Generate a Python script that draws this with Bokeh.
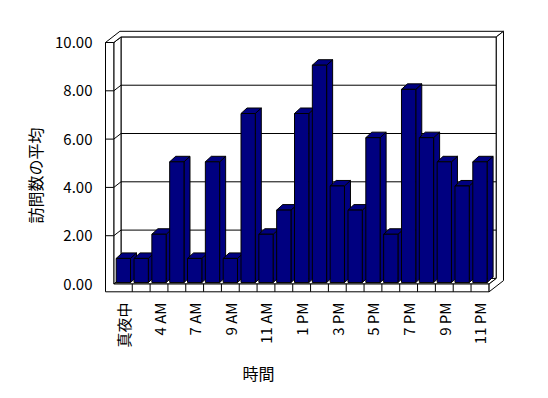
import math
from bokeh.plotting import figure
from bokeh.models import FixedTicker, Range1d, Title
from bokeh.embed import file_html
from bokeh.resources import INLINE

# ---- data ----
hours = ["真夜中", "1 AM", "4 AM", "5 AM", "7 AM", "8 AM", "9 AM", "10 AM", "11 AM",
         "12 PM", "1 PM", "2 PM", "3 PM", "4 PM", "5 PM", "6 PM", "7 PM", "8 PM",
         "9 PM", "10 PM", "11 PM"]
visits = [1, 1, 2, 5, 1, 5, 1, 7, 2, 3, 7, 9, 4, 3, 6, 2, 8, 6, 5, 4, 5]
y_ticks = [0, 2, 4, 6, 8, 10]
y_tick_labels = ["0.00", "2.00", "4.00", "6.00", "8.00", "10.00"]
x_tick_idx = list(range(0, len(hours), 2))
x_title = "時間"
y_title = "訪問数の平均"

# ---- style / geometry (pixel sizes converted to data units) ----
PX, PY = 17.83, 24.15
def ux(px):
    return px / PX
def uy(px):
    return px / PY

BAR = "#000080"
half = ux(7.15)
bdx, bdy = ux(6.0), uy(5.5)
lift = uy(1.45)
wx, wy = ux(7.2), uy(5.6)
x_out = -1.001
x_in = -0.5356
x_right = 20.513
y_bot = -0.323
y_top = y_ticks[-1]

FONT = "Noto Sans CJK JP"
W, H = 532, 392

p = figure(width=W, height=H, output_backend="svg", toolbar_location=None,
           x_range=Range1d(-1.0572, 21.489), y_range=Range1d(-0.393, 10.580),
           min_border_left=104, min_border_right=26, min_border_top=28,
           min_border_bottom=99)
p.outline_line_color = None
p.grid.visible = False
p.background_fill_color = "white"
p.border_fill_color = "white"

# back wall
p.patches([[x_in + wx, x_right + wx, x_right + wx, x_in + wx]],
          [[wy, wy, y_top + wy, y_top + wy]],
          fill_color="white", line_color="black", line_width=1)
gx, gy = [], []
for t in y_ticks[1:-1]:
    gx.append([x_in + wx, x_right + wx])
    gy.append([t + wy, t + wy])
p.multi_line(gx, gy, line_color="black", line_width=1)

# left wall inner face
p.patches([[x_in, x_in, x_in + wx, x_in + wx]],
          [[0, y_top, y_top + wy, wy]],
          fill_color="white", line_color="black", line_width=1)
dgx, dgy = [], []
for t in y_ticks:
    dgx.append([x_in, x_in + wx])
    dgy.append([t, t + wy])
p.multi_line(dgx, dgy, line_color="black", line_width=1)

# floor top
p.patches([[x_in, x_right, x_right + wx, x_in + wx]],
          [[0, 0, wy, wy]],
          fill_color="white", line_color="black", line_width=1)

# wall + floor front faces, top and right slab
p.patches([[x_out, x_out, x_in, x_in, x_right, x_right],
           [x_out, x_out + 2 * wx, x_right + 2 * wx, x_right + wx, x_in + wx, x_in],
           [x_right + wx, x_right + wx, x_right + 2 * wx, x_right + 2 * wx, x_right, x_right]],
          [[y_bot, y_top, y_top, 0, 0, y_bot],
           [y_top, y_top + 2 * wy, y_top + 2 * wy, y_top + wy, y_top + wy, y_top],
           [wy, y_top + wy, y_top + 2 * wy, y_bot + 2 * wy, y_bot, 0]],
          fill_color="white", line_color="black", line_width=1)
fx, fy = [], []
for t in y_ticks[1:-1]:
    fx.append([x_out, x_in])
    fy.append([t, t])
for i in range(len(hours) - 1):
    fx.append([i + 0.5, i + 0.5])
    fy.append([y_bot, 0])
p.multi_line(fx, fy, line_color="black", line_width=1)

# bars (painter's order: left to right; side, top, front)
bxs, bys = [], []
for i, v in enumerate(visits):
    L, R = i - half, i + half
    B, T = lift, v + lift
    bxs.append([R, R + bdx, R + bdx, R]); bys.append([B, B + bdy, T + bdy, T])
    bxs.append([L, R, R + bdx, L + bdx]); bys.append([T, T, T + bdy, T + bdy])
    bxs.append([L, R, R, L]); bys.append([B, B, T, T])
p.patches(bxs, bys, fill_color=BAR, line_color="black", line_width=1)

# axes
ya = p.yaxis[0]
ya.ticker = FixedTicker(ticks=y_ticks)
ya.major_label_overrides = {t: s for t, s in zip(y_ticks, y_tick_labels)}
ya.axis_line_color = None
ya.major_tick_line_color = None
ya.minor_tick_line_color = None
ya.major_tick_in = 0
ya.major_tick_out = 0
ya.major_label_standoff = 12
ya.major_label_text_font = FONT
ya.major_label_text_font_size = "15px"
ya.major_label_text_color = "black"

xa = p.xaxis[0]
xa.ticker = FixedTicker(ticks=x_tick_idx)
xa.major_label_overrides = {i: hours[i] for i in x_tick_idx}
xa.major_label_orientation = math.pi / 2
xa.axis_line_color = None
xa.major_tick_line_color = None
xa.minor_tick_line_color = None
xa.major_tick_in = 0
xa.major_tick_out = 0
xa.major_label_standoff = 9
xa.major_label_text_font = FONT
xa.major_label_text_font_size = "15px"
xa.major_label_text_color = "black"

# axis titles, shifted along the frame as in the original
p.add_layout(Title(text=x_title, align="left", offset=138, standoff=16,
                   text_font=FONT, text_font_size="16px", text_font_style="normal",
                   text_color="black"), "below")
p.add_layout(Title(text=y_title, align="left", offset=70, standoff=12,
                   text_font=FONT, text_font_size="16px", text_font_style="normal",
                   text_color="black"), "left")

open("out.html", "w").write(file_html(p, INLINE))
